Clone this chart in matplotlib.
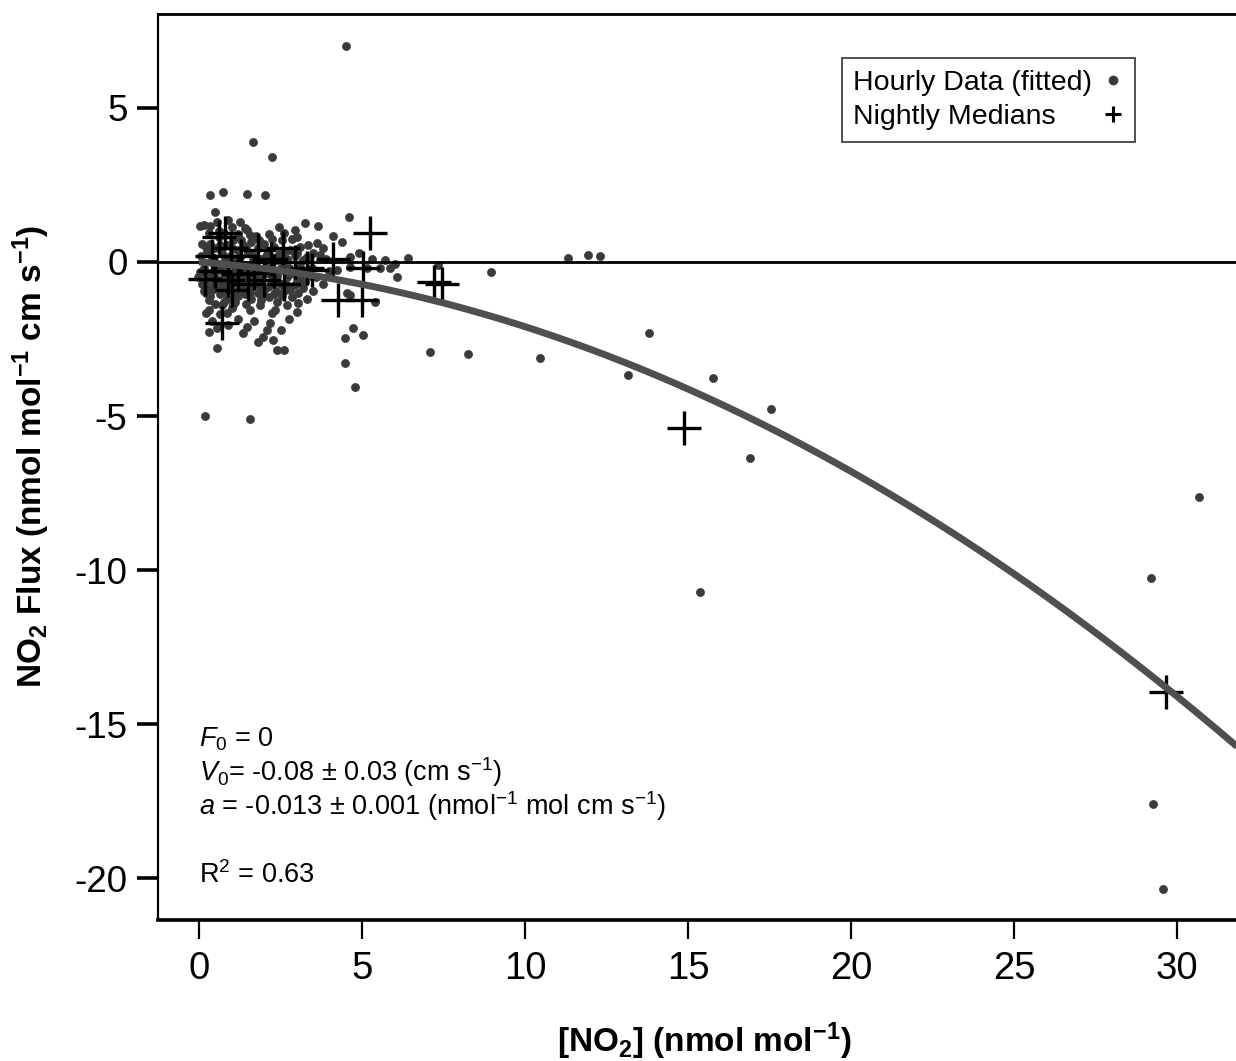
import numpy as np
import matplotlib
matplotlib.use("Agg")
import matplotlib.pyplot as plt
from matplotlib.lines import Line2D

plt.rcParams['font.family'] = ['Liberation Sans', 'DejaVu Sans']
plt.rcParams['mathtext.fontset'] = 'custom'
plt.rcParams['mathtext.rm'] = 'Liberation Sans'
plt.rcParams['mathtext.it'] = 'Liberation Sans:italic'
plt.rcParams['mathtext.bf'] = 'Liberation Sans:bold'

# ---------------- data ----------------
# Hourly data (fitted): [NO2] (nmol/mol) and NO2 flux (nmol/mol cm/s)
hourly_x = [
    4.5, 1.66, 2.25, 0.32, 0.73, 1.46, 2.03, 0.49, 0.03, 0.34, 0.15,
    1.26, 1.46, 1.56, 2.94, 3.25, 3.66, 4.6, 3.61, 4.38, 3.3, 3.71, 4.63, 6.42,
    7.34, 8.95, 6.06, 5.86, 5.55, 5.14, 4.22, 4.63, 4.53, 4.63, 5.4,
    4.73, 5.04, 4.48, 4.48, 4.79, 7.09, 8.24, 10.46, 0.18, 1.56,
    0.54, 0.29, 2.38, 2.59, 2.28, 1.97, 2.08, 2.18, 2.23, 2.33,
    1.46, 2.69, 3.05, 3.0, 0.85, 1.05, 0.75, 1.56, 1.87, 0.03, -0.02,
    11.33, 11.94, 12.3, 13.81, 13.17, 15.78, 17.55, 16.9, 15.37,
    30.69, 29.19, 29.26, 29.57,
    0.35, 0.5, 0.6, 0.7, 0.85, 0.95, 1.05, 1.15, 1.25, 1.35, 1.5, 1.6, 1.7,
    1.8, 1.9, 2.0, 2.1, 2.2, 2.3, 2.45, 2.55, 2.7, 2.8, 2.95, 3.1, 3.2, 0.4,
    0.75, 1.2, 1.4, 2.6, 0.25, 3.5, 3.9, 0.55, 1.0, 1.75, 2.15, 0.3,
    0.15, 0.25, 0.35, 0.4, 0.5, 0.55, 0.65, 0.7, 0.8, 0.9, 0.95, 1.0, 1.1,
    1.15, 1.2, 1.3, 1.35, 1.45, 1.5, 1.55, 1.65, 1.7, 1.8, 1.85, 1.95, 2.0,
    2.1, 2.2, 2.25, 2.35, 2.45, 2.5, 2.6, 2.7, 2.8, 2.9, 3.0, 3.1, 3.2, 3.3,
    3.45, 3.6, 0.2, 0.3, 0.45, 0.6, 0.75, 0.85, 1.05, 1.25, 1.4, 1.6, 1.75,
    1.9, 2.05, 2.15, 2.4, 2.55, 2.75, 2.85, 3.05, 0.1, 0.5, 1.0, 0.65, 0.4,
    0.3, 0.9, 1.2, 1.35, 1.7, 1.8, 0.55, 0.2, 2.75, 2.5, 3.3, 3.5, 3.8, 4.0,
    3.8, 4.1, 4.9, 5.3, 5.7, 6.0,
    0.2, 0.45, 0.65, 0.8, 1.0, 1.1, 1.3, 1.45, 1.65, 1.85, 2.05, 2.25, 2.4,
    2.65, 2.85, 3.0, 3.35,
    0.2, 0.3, 0.45, 0.55, 0.6, 0.7, 0.8, 0.9, 1.0, 1.1, 1.2, 1.3, 1.4, 1.5,
    1.6, 1.7, 1.8, 1.9, 2.0, 2.1, 2.2, 2.3, 2.4, 2.5, 2.6, 2.7, 2.8, 2.95,
    3.1, 3.25, 3.4, 0.35, 0.7, 1.1, 1.45, 1.9, 2.4, 0.15, 0.05, 0.1, 0.6,
    0.9, 2.45, 3.0,
]
hourly_y = [
    7.0, 3.9, 3.4, 2.17, 2.28, 2.21, 2.17, 1.63, 1.17, 1.17, 1.2,
    1.31, 1.04, 0.88, 1.04, 1.26, 1.17, 1.45, 0.61, 0.66, 0.17, 0.23, 0.17, 0.12,
    -0.1, -0.33, -0.48, -0.2, -0.2, -0.2, -0.26, -0.15, -1.02, -1.07, -1.29,
    -2.15, -2.37, -2.48, -3.29, -4.05, -2.91, -3.0, -3.13, -5.0, -5.1,
    -2.8, -2.26, -2.86, -2.86, -2.53, -2.43, -2.21, -1.99, -1.67, -1.56,
    -2.1, -1.4, -1.34, -1.61, -1.67, -1.4, -1.29, -1.56, -1.4, -0.31, -0.48,
    0.12, 0.23, 0.19, -2.32, -3.67, -3.76, -4.78, -6.35, -10.71,
    -7.64, -10.25, -17.58, -20.34,
    0.6, 0.45, 0.8, 0.3, 0.55, 0.2, 0.7, 0.4, 0.15, 0.55, 0.3, 0.65, 0.2,
    0.45, 0.1, 0.6, 0.35, 0.15, 0.5, 0.25, 0.7, 0.1, 0.4, 0.2, 0.5, 0.05, 0.15,
    0.95, 0.9, 1.1, 0.95, 0.35, 0.3, 0.1, 1.3, 1.15, 0.85, 0.9, 0.95,
    -0.2, -0.6, -0.35, -0.9, -0.15, -0.55, -1.05, -0.3, -0.7, -0.1, -0.45, -0.95, -0.25,
    -0.65, -1.1, -0.4, -0.8, -0.15, -0.55, -1.0, -0.35, -0.75, -0.2, -0.6, -1.05, -0.4,
    -0.8, -0.25, -0.55, -0.95, -0.3, -0.7, -0.15, -0.5, -0.9, -0.3, -0.6, -0.15, -0.85, -0.4,
    -0.2, -0.5, -1.0, -1.25, -0.75, -0.2, -0.55, -1.2, -0.5, -0.85, -0.3, -1.2, -0.45,
    -0.85, -0.15, -1.15, -0.65, -1.1, -0.2, -1.15, -1.0, -0.7, -1.35, -1.5, -1.7, -1.9,
    -1.55, -2.05, -1.85, -2.3, -1.9, -2.6, -2.15, -1.65, -1.85, -2.2, -1.2, -0.95, -0.7, -0.3,
    0.45, 0.85, 0.3, 0.1, 0.05, -0.05,
    0.5, 0.05, 0.55, 0.1, 0.45, 0.05, 0.7, 0.45, 0.05, 0.7, 0.2, 0.75, 0.05,
    0.35, 0.75, 0.3, 0.55,
    -0.4, -0.85, -0.5, -0.25, -0.8, -0.6, -0.95, -0.35, -0.7, -1.0, -0.2, -0.6, -1.05, -0.35,
    -0.8, -0.1, -1.0, -0.45, -0.9, -0.35, -0.7, -1.05, -0.45, -0.2, -0.95, -0.75, -0.4, -0.75,
    -0.5, -0.65, -0.45, -1.1, -1.4, -1.3, -1.35, -1.25, -1.3, -0.95, 0.2, 0.6, 1.0,
    1.35, 1.15, 0.8,
]

# Nightly medians
nightly_x = [
    0.18, 0.6, 0.8, 0.99, 1.3, 1.81, 2.58, 2.93, 0.5, 0.9, 1.2, 1.5, 1.7,
    2.0, 2.3, 2.6, 1.0, 2.2, 0.4, 3.3, 3.45, 0.7,
    5.25, 4.27, 4.99, 5.04, 4.12, 7.2, 7.45, 14.88, 29.66,
]
nightly_y = [
    -0.55, 0.82, 0.93, 0.45, 0.2, 0.4, 0.45, 0.0, -0.3, -0.6, -0.4, -0.7, -0.35,
    -0.6, -0.3, -0.7, -0.9, 0.1, 0.2, -0.2, -0.25, -1.99,
    0.93, -1.25, -1.25, -0.2, 0.1, -0.65, -0.72, -5.4, -13.96,
]

# Fit parameters (as printed on the chart): F = F0 + V0*[NO2] + a*[NO2]^2
F0 = 0.0
V0 = -0.08
A2 = -0.013

x_ticks = [0, 5, 10, 15, 20, 25, 30]
y_ticks = [5, 0, -5, -10, -15, -20]
legend_labels = ['Hourly Data (fitted)', 'Nightly Medians']

# ---------------- figure ----------------
W, H = 1236, 1061
fig = plt.figure(figsize=(W / 100, H / 100), dpi=100)
ax = fig.add_axes([158 / W, 141 / H, (W - 158) / W, 906 / H])

ax.set_xlim(-1.26, 31.81)
ax.set_ylim(-21.36, 8.05)

ax.axhline(0, color='black', lw=2.0, zorder=3)

ax.plot(hourly_x, hourly_y, ls='', marker='o', ms=5.8, mfc='#3a3a3a',
        mec='#3a3a3a', mew=0.5, zorder=2)
ax.plot(nightly_x, nightly_y, ls='', marker='+', ms=24, mew=2.4,
        color='black', zorder=3)

fit_x = np.linspace(0, 32.5, 300)
fit_y = F0 + V0 * fit_x + A2 * fit_x ** 2
ax.plot(fit_x, fit_y, color='#4f4f4f', lw=5, zorder=4, solid_capstyle='butt')

# spines
ax.spines['right'].set_visible(False)
ax.spines['top'].set_linewidth(2.0)
ax.spines['left'].set_linewidth(1.6)
ax.spines['bottom'].set_linewidth(2.6)

ax.set_xticks(x_ticks)
ax.set_yticks(y_ticks)
ax.set_xticklabels([str(v) for v in x_ticks])
ax.set_yticklabels([str(v) for v in y_ticks])
ax.tick_params(axis='x', direction='out', length=14, width=1.6, pad=8,
               labelsize=27.5)
ax.tick_params(axis='y', direction='out', length=15, width=2.6, pad=7,
               labelsize=26.5)

ax.set_xlabel(r'[NO$_\mathbf{2}$] (nmol mol$^{\mathbf{-1}}$)', fontsize=24,
              fontweight='bold')
ax.set_ylabel(r'NO$_\mathbf{2}$ Flux (nmol mol$^{\mathbf{-1}}$ cm s$^{\mathbf{-1}}$)',
              fontsize=24, fontweight='bold')
ax.xaxis.set_label_coords(0.507, -0.111)
ax.yaxis.set_label_coords(-0.098, 0.512)

# annotation text
txt_kw = dict(transform=ax.transAxes, fontsize=19.5, ha='left', va='baseline')
ax.text(0.038, 0.191, r'$F_{\mathit{0}}$ = 0', **txt_kw)
ax.text(0.038, 0.153, r'$V_{\mathit{0}}$= -0.08 ± 0.03 (cm s$^{\mathrm{-1}}$)', **txt_kw)
ax.text(0.038, 0.116, r'$a$ = -0.013 ± 0.001 (nmol$^{\mathrm{-1}}$ mol cm s$^{\mathrm{-1}}$)', **txt_kw)
ax.text(0.038, 0.041, r'R$^{\mathrm{2}}$ = 0.63', **txt_kw)

handles = [
    Line2D([], [], ls='', marker='o', ms=6, color='#3a3a3a'),
    Line2D([], [], ls='', marker='+', ms=12, mew=2.2, color='black'),
]
leg = ax.legend(handles, legend_labels,
                loc='upper right', bbox_to_anchor=(0.906, 0.951),
                borderaxespad=0, fontsize=20.5, markerfirst=False,
                frameon=True, fancybox=False, edgecolor='black',
                handlelength=0.7, handletextpad=0.4, labelspacing=0.3,
                borderpad=0.4)
leg.get_frame().set_linewidth(1.2)

# left-align legend labels while keeping the markers in a right-hand column
fig.canvas.draw()
renderer = fig.canvas.get_renderer()
try:
    col = leg._legend_handle_box.get_children()[0]
    items = col.get_children()
    widths = [t.get_window_extent(renderer).width for t in leg.get_texts()]
    wmax = max(widths)
    col.align = 'left'
    for item, wi in zip(items, widths):
        item.sep = item.sep + (wmax - wi) * 72.0 / fig.dpi
except Exception:
    pass

fig.savefig('out.png', dpi=100)
